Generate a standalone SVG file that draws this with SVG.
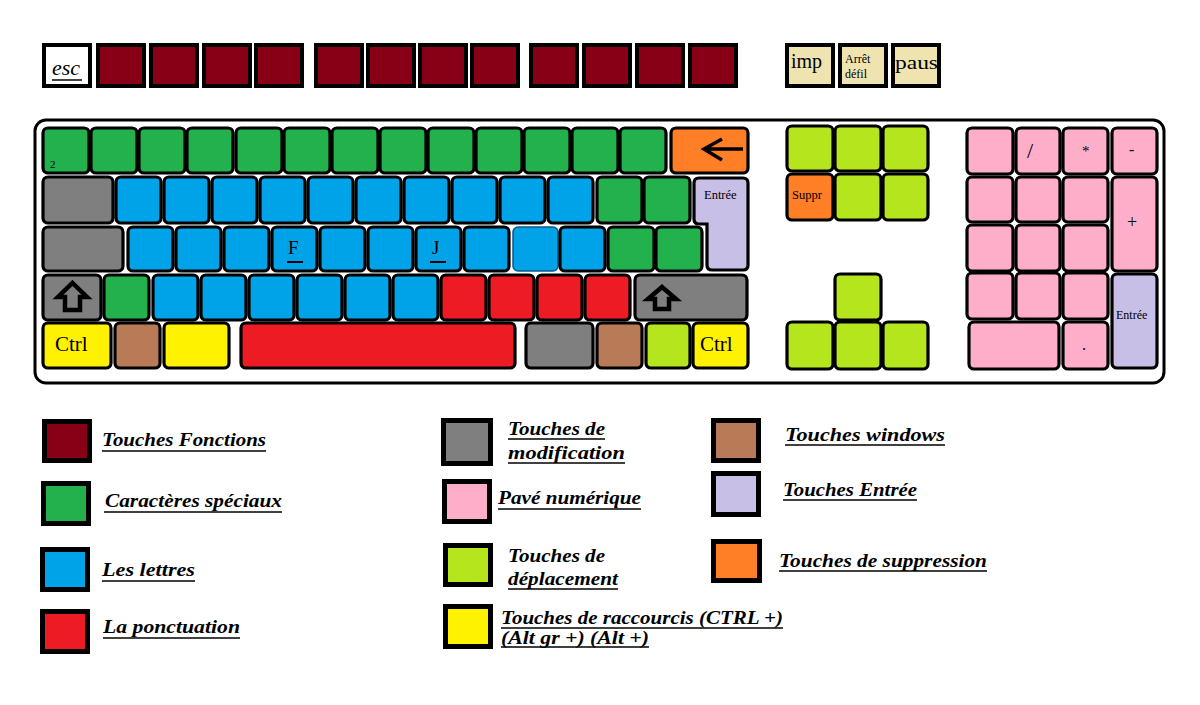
<svg xmlns="http://www.w3.org/2000/svg" width="1200" height="705" viewBox="0 0 1200 705">
<style>
.fk{stroke:#000;stroke-width:4}
.k{stroke:#000;stroke-width:3.2}
.lg{stroke:#000;stroke-width:5}
.dr{fill:#880015}.gr{fill:#22b14c}.bl{fill:#00a2e8}.rd{fill:#ed1c24}.gy{fill:#7f7f7f}
.pk{fill:#ffaec9}.lm{fill:#b5e61d}.ye{fill:#fff200}.br{fill:#b97a57}.lv{fill:#c8bfe7}
.or{fill:#ff7f27}.bg{fill:#efe4b0}
.t{font-family:"Liberation Serif","DejaVu Serif",serif;fill:#000}
.lt{font-family:"Liberation Serif","DejaVu Serif",serif;font-weight:bold;font-style:italic;font-size:19.5px;fill:#000}
.ul{stroke:#000;stroke-width:1.5}
</style>
<rect width="1200" height="705" fill="#fff"/>
<g id="function-row">
<g id="key-esc"><rect class="fk" x="44" y="45" width="46" height="41" fill="#fff"/><text class="t" x="52" y="75" font-size="22" font-style="italic">esc</text><line x1="52" y1="80" x2="82" y2="80" stroke="#000" stroke-width="1.5"/></g>
<rect id="f1" class="fk dr" x="98" y="45" width="46" height="41"/>
<rect id="f2" class="fk dr" x="151" y="45" width="46" height="41"/>
<rect id="f3" class="fk dr" x="204" y="45" width="46" height="41"/>
<rect id="f4" class="fk dr" x="256" y="45" width="46" height="41"/>
<rect id="f5" class="fk dr" x="316" y="45" width="46" height="41"/>
<rect id="f6" class="fk dr" x="368" y="45" width="46" height="41"/>
<rect id="f7" class="fk dr" x="420" y="45" width="46" height="41"/>
<rect id="f8" class="fk dr" x="472" y="45" width="46" height="41"/>
<rect id="f9" class="fk dr" x="531" y="45" width="46" height="41"/>
<rect id="f10" class="fk dr" x="584" y="45" width="46" height="41"/>
<rect id="f11" class="fk dr" x="637" y="45" width="46" height="41"/>
<rect id="f12" class="fk dr" x="690" y="45" width="46" height="41"/>
<g id="key-imp"><rect class="fk bg" x="787" y="45" width="46" height="41"/><text class="t" x="791" y="68" font-size="20">imp</text></g>
<g id="key-arret"><rect class="fk bg" x="840" y="45" width="46" height="41"/><text class="t" x="845" y="63" font-size="12">Arrêt</text><text class="t" x="845" y="78" font-size="12">défil</text><rect x="838" y="84" width="50" height="4" fill="#000"/></g>
<g id="key-paus"><rect class="fk bg" x="893" y="45" width="46" height="41"/><text class="t" x="895" y="69" font-size="19" textLength="43" lengthAdjust="spacingAndGlyphs">paus</text></g>
</g>
<rect id="keyboard-case" x="35" y="120" width="1129" height="263" rx="11" fill="#fff" stroke="#000" stroke-width="3"/>
<g id="row1">
<rect class="k gr" x="43" y="128" width="46" height="45" rx="5"/><text class="t" x="50" y="168" font-size="11" font-family="DejaVu Sans,sans-serif">2</text>
<rect class="k gr" x="91" y="128" width="46" height="45" rx="5"/>
<rect class="k gr" x="139" y="128" width="46" height="45" rx="5"/>
<rect class="k gr" x="187" y="128" width="46" height="45" rx="5"/>
<rect class="k gr" x="236" y="128" width="46" height="45" rx="5"/>
<rect class="k gr" x="284" y="128" width="46" height="45" rx="5"/>
<rect class="k gr" x="332" y="128" width="46" height="45" rx="5"/>
<rect class="k gr" x="380" y="128" width="46" height="45" rx="5"/>
<rect class="k gr" x="428" y="128" width="46" height="45" rx="5"/>
<rect class="k gr" x="476" y="128" width="46" height="45" rx="5"/>
<rect class="k gr" x="524" y="128" width="46" height="45" rx="5"/>
<rect class="k gr" x="572" y="128" width="46" height="45" rx="5"/>
<rect class="k gr" x="620" y="128" width="46" height="45" rx="5"/>
<g id="key-backspace"><rect class="k or" x="671" y="128" width="77" height="45" rx="5"/><path d="M704,149 H743 M722,139 L704,149 L722,160" fill="none" stroke="#000" stroke-width="3.5"/></g>
</g>
<g id="row2">
<rect class="k gy" x="43" y="177" width="70" height="46" rx="5"/>
<rect class="k bl" x="116" y="177" width="45" height="46" rx="5"/>
<rect class="k bl" x="164" y="177" width="45" height="46" rx="5"/>
<rect class="k bl" x="212" y="177" width="45" height="46" rx="5"/>
<rect class="k bl" x="260" y="177" width="45" height="46" rx="5"/>
<rect class="k bl" x="308" y="177" width="45" height="46" rx="5"/>
<rect class="k bl" x="356" y="177" width="45" height="46" rx="5"/>
<rect class="k bl" x="404" y="177" width="45" height="46" rx="5"/>
<rect class="k bl" x="452" y="177" width="45" height="46" rx="5"/>
<rect class="k bl" x="500" y="177" width="45" height="46" rx="5"/>
<rect class="k bl" x="548" y="177" width="45" height="46" rx="5"/>
<rect class="k gr" x="597" y="177" width="45" height="46" rx="5"/>
<rect class="k gr" x="644" y="177" width="46" height="46" rx="5"/>
</g>
<g id="key-entree"><path class="k lv" d="M699,178 H743 Q748,178 748,183 V265 Q748,270 743,270 H712 Q707,270 707,265 V224 H699 Q694,224 694,219 V183 Q694,178 699,178 Z"/><text class="t" x="704" y="199" font-size="12.5">Entrée</text></g>
<g id="row3">
<rect class="k gy" x="43" y="227" width="80" height="44" rx="5"/>
<rect class="k bl" x="128" y="227" width="45" height="44" rx="5"/>
<rect class="k bl" x="176" y="227" width="45" height="44" rx="5"/>
<rect class="k bl" x="224" y="227" width="45" height="44" rx="5"/>
<g id="key-f"><rect class="k bl" x="272" y="227" width="45" height="44" rx="5"/><text class="t" x="288" y="254" font-size="19">F</text><rect x="287" y="261" width="16" height="2" fill="#000"/></g>
<rect class="k bl" x="320" y="227" width="45" height="44" rx="5"/>
<rect class="k bl" x="368" y="227" width="45" height="44" rx="5"/>
<g id="key-j"><rect class="k bl" x="416" y="227" width="45" height="44" rx="5"/><text class="t" x="432" y="254" font-size="19">J</text><rect x="430" y="261" width="16" height="2" fill="#000"/></g>
<rect class="k bl" x="464" y="227" width="45" height="44" rx="5"/>
<rect class="bl" x="513" y="227" width="45" height="44" rx="5" stroke="#0a5a8a" stroke-width="1.5"/>
<rect class="k bl" x="560" y="227" width="45" height="44" rx="5"/>
<rect class="k gr" x="608" y="227" width="46" height="44" rx="5"/>
<rect class="k gr" x="656" y="227" width="46" height="44" rx="5"/>
</g>
<g id="row4">
<g id="key-lshift"><rect class="k gy" x="43" y="275" width="58" height="45" rx="5"/><path d="M72.5,283 L87,297 H80 V310 H65 V297 H58 Z" fill="none" stroke="#000" stroke-width="4.5"/></g>
<rect class="k gr" x="104" y="275" width="45" height="45" rx="5"/>
<rect class="k bl" x="153" y="275" width="45" height="45" rx="5"/>
<rect class="k bl" x="201" y="275" width="45" height="45" rx="5"/>
<rect class="k bl" x="249" y="275" width="45" height="45" rx="5"/>
<rect class="k bl" x="297" y="275" width="45" height="45" rx="5"/>
<rect class="k bl" x="345" y="275" width="45" height="45" rx="5"/>
<rect class="k bl" x="393" y="275" width="45" height="45" rx="5"/>
<rect class="k rd" x="441" y="275" width="45" height="45" rx="5"/>
<rect class="k rd" x="489" y="275" width="45" height="45" rx="5"/>
<rect class="k rd" x="537" y="275" width="45" height="45" rx="5"/>
<rect class="k rd" x="585" y="275" width="45" height="45" rx="5"/>
<g id="key-rshift"><rect class="k gy" x="635" y="275" width="112" height="45" rx="5"/><path d="M662,287 L676,299 H669 V309 H655 V299 H648 Z" fill="none" stroke="#000" stroke-width="4.5"/></g>
</g>
<g id="row5">
<g id="key-lctrl"><rect class="k ye" x="43" y="323" width="68" height="45" rx="5"/><text class="t" x="55" y="351" font-size="21">Ctrl</text></g>
<rect class="k br" x="115" y="323" width="45" height="45" rx="5"/>
<rect class="k ye" x="164" y="323" width="65" height="45" rx="5"/>
<rect class="k rd" x="241" y="323" width="274" height="45" rx="5"/>
<rect class="k gy" x="526" y="323" width="67" height="45" rx="5"/>
<rect class="k br" x="597" y="323" width="45" height="45" rx="5"/>
<rect class="k lm" x="646" y="323" width="44" height="45" rx="5"/>
<g id="key-rctrl"><rect class="k ye" x="693" y="323" width="55" height="45" rx="5"/><text class="t" x="700" y="351" font-size="21">Ctrl</text></g>
</g>
<g id="nav-cluster">
<rect class="k lm" x="787" y="126" width="46" height="45" rx="5"/>
<rect class="k lm" x="835" y="126" width="46" height="45" rx="5"/>
<rect class="k lm" x="883" y="126" width="45" height="45" rx="5"/>
<g id="key-suppr"><rect class="k or" x="787" y="174" width="46" height="46" rx="5"/><text class="t" x="792" y="199" font-size="12.5">Suppr</text></g>
<rect class="k lm" x="835" y="174" width="46" height="46" rx="5"/>
<rect class="k lm" x="883" y="174" width="45" height="46" rx="5"/>
<rect class="k lm" x="835" y="274" width="46" height="46" rx="5"/>
<rect class="k lm" x="787" y="322" width="46" height="47" rx="5"/>
<rect class="k lm" x="835" y="322" width="46" height="47" rx="5"/>
<rect class="k lm" x="883" y="322" width="45" height="47" rx="5"/>
</g>
<g id="numpad">
<rect class="k pk" x="967" y="128" width="46" height="46" rx="5"/>
<g id="key-div"><rect class="k pk" x="1016" y="128" width="44" height="46" rx="5"/><text class="t" x="1027" y="158" font-size="22">/</text></g>
<g id="key-mul"><rect class="k pk" x="1063" y="128" width="45" height="46" rx="5"/><text class="t" x="1082" y="156" font-size="15">*</text></g>
<g id="key-minus"><rect class="k pk" x="1112" y="128" width="45" height="46" rx="5"/><text class="t" x="1129" y="155" font-size="16">-</text></g>
<rect class="k pk" x="967" y="177" width="46" height="45" rx="5"/>
<rect class="k pk" x="1016" y="177" width="44" height="45" rx="5"/>
<rect class="k pk" x="1063" y="177" width="45" height="45" rx="5"/>
<g id="key-plus"><rect class="k pk" x="1112" y="177" width="45" height="94" rx="5"/><text class="t" x="1127" y="228" font-size="18">+</text></g>
<rect class="k pk" x="967" y="225" width="46" height="46" rx="5"/>
<rect class="k pk" x="1016" y="225" width="44" height="46" rx="5"/>
<rect class="k pk" x="1063" y="225" width="45" height="46" rx="5"/>
<rect class="k pk" x="967" y="273" width="46" height="46" rx="5"/>
<rect class="k pk" x="1016" y="273" width="44" height="46" rx="5"/>
<rect class="k pk" x="1063" y="273" width="45" height="46" rx="5"/>
<g id="key-num-entree"><rect class="k lv" x="1112" y="274" width="45" height="94" rx="5"/><text class="t" x="1116" y="319" font-size="12">Entrée</text></g>
<rect class="k pk" x="969" y="322" width="90" height="47" rx="5"/>
<g id="key-dot"><rect class="k pk" x="1063" y="322" width="45" height="47" rx="5"/><text class="t" x="1082" y="350" font-size="16">.</text></g>
</g>
<g id="legend">
<g id="lg-fonctions"><rect class="lg dr" x="44.5" y="421.5" width="45" height="39"/><text class="lt" x="102" y="446" textLength="164" lengthAdjust="spacingAndGlyphs">Touches Fonctions</text><line class="ul" x1="102" y1="451" x2="266" y2="451"/></g>
<g id="lg-speciaux"><rect class="lg gr" x="43.5" y="483.5" width="45" height="40"/><text class="lt" x="105" y="507" textLength="177" lengthAdjust="spacingAndGlyphs">Caractères spéciaux</text><line class="ul" x1="104" y1="512" x2="282" y2="512"/></g>
<g id="lg-lettres"><rect class="lg bl" x="42.5" y="549.5" width="45" height="40"/><text class="lt" x="102" y="576" textLength="93" lengthAdjust="spacingAndGlyphs">Les lettres</text><line class="ul" x1="102" y1="581" x2="195" y2="581"/></g>
<g id="lg-ponctuation"><rect class="lg rd" x="42.5" y="611.5" width="45" height="40"/><text class="lt" x="103" y="633" textLength="137" lengthAdjust="spacingAndGlyphs">La ponctuation</text><line class="ul" x1="103" y1="638" x2="240" y2="638"/></g>
<g id="lg-modification"><rect class="lg gy" x="443.5" y="420.5" width="47" height="43"/><text class="lt" x="508" y="435" textLength="97" lengthAdjust="spacingAndGlyphs">Touches de</text><line class="ul" x1="508" y1="439" x2="605" y2="439"/><text class="lt" x="508" y="459" textLength="117" lengthAdjust="spacingAndGlyphs">modification</text><line class="ul" x1="508" y1="463" x2="625" y2="463"/></g>
<g id="lg-pave"><rect class="lg pk" x="444.5" y="481.5" width="45" height="40"/><text class="lt" x="498" y="504" textLength="143" lengthAdjust="spacingAndGlyphs">Pavé numérique</text><line class="ul" x1="498" y1="509" x2="641" y2="509"/></g>
<g id="lg-deplacement"><rect class="lg lm" x="445.5" y="545.5" width="45" height="39"/><text class="lt" x="508" y="562" textLength="97" lengthAdjust="spacingAndGlyphs">Touches de</text><text class="lt" x="508" y="585" textLength="110" lengthAdjust="spacingAndGlyphs">déplacement</text><line class="ul" x1="508" y1="589" x2="618" y2="589"/></g>
<g id="lg-raccourcis"><rect class="lg ye" x="445.5" y="606.5" width="45" height="40"/><text class="lt" x="501" y="624" textLength="282" lengthAdjust="spacingAndGlyphs">Touches de raccourcis (CTRL +)</text><line class="ul" x1="501" y1="628" x2="783" y2="628"/><text class="lt" x="501" y="644" textLength="148" lengthAdjust="spacingAndGlyphs">(Alt gr +) (Alt +)</text><line class="ul" x1="501" y1="647" x2="649" y2="647"/></g>
<g id="lg-windows"><rect class="lg br" x="713.5" y="420.5" width="45" height="40"/><text class="lt" x="785" y="441" textLength="160" lengthAdjust="spacingAndGlyphs">Touches windows</text><line class="ul" x1="785" y1="445" x2="945" y2="445"/></g>
<g id="lg-entree"><rect class="lg lv" x="713.5" y="473.5" width="45" height="41"/><text class="lt" x="783" y="496" textLength="134" lengthAdjust="spacingAndGlyphs">Touches Entrée</text><line class="ul" x1="783" y1="500" x2="917" y2="500"/></g>
<g id="lg-suppression"><rect class="lg or" x="713.5" y="541.5" width="46" height="39"/><text class="lt" x="779" y="567" textLength="208" lengthAdjust="spacingAndGlyphs">Touches de suppression</text><line class="ul" x1="779" y1="571" x2="987" y2="571"/></g>
</g>
</svg>
